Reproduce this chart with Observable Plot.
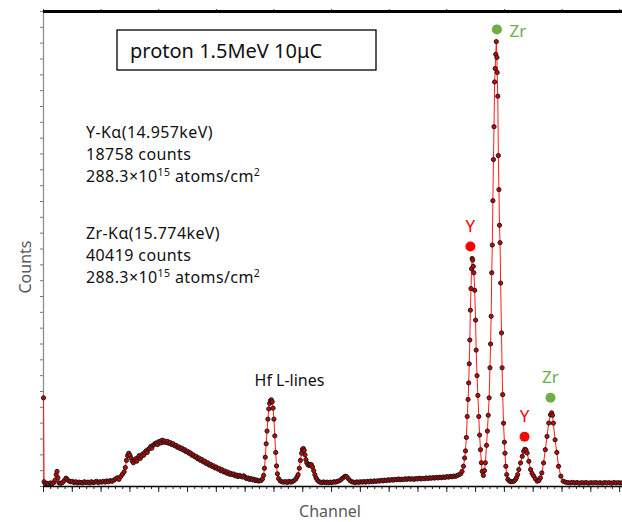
<!DOCTYPE html>
<html><head><meta charset="utf-8">
<script src="https://cdn.jsdelivr.net/npm/d3@7"></script>
<script src="https://cdn.jsdelivr.net/npm/@observablehq/plot@0.6"></script>
<style>body{margin:0;background:#fff}</style>
</head><body><div id="chart"></div>
<script>
// Spectrum: channel numbers and counts
const channel = [0,2,6,12,18,24,30,36,40,44,47,50,54,60,66,72,78,82,88,94,100,106,112,118,124,130,136,142,148,154,160,166,172,178,184,190,196,202,208,214,220,226,232,238,244,250,256,262,268,274,280,284,288,292,296,300,304,308,312,316,320,324,328,332,336,340,344,348,352,356,360,364,368,372,376,380,384,388,392,396,400,404,408,412,416,420,425,430,435,440,445,450,455,460,465,470,475,480,485,490,495,500,505,510,515,520,525,530,535,540,545,550,555,560,565,570,575,580,585,590,595,600,605,610,615,620,625,630,635,640,645,650,655,660,665,670,675,680,685,690,695,700,705,710,715,720,725,730,735,740,745,750,755,760,764,767,770,773,776,779,782,785,788,791,794,797,800,803,806,809,812,816,822,828,834,840,846,852,858,864,870,876,880,884,888,892,896,899,902,905,908,911,914,918,922,926,930,934,938,942,946,950,955,960,966,972,978,984,990,996,1002,1008,1014,1020,1026,1032,1038,1044,1048,1052,1058,1064,1070,1076,1082,1088,1094,1100,1106,1112,1118,1124,1130,1136,1142,1148,1154,1160,1166,1172,1178,1184,1190,1196,1202,1208,1214,1220,1226,1232,1238,1244,1250,1256,1262,1268,1274,1280,1286,1292,1298,1304,1310,1316,1322,1328,1334,1340,1346,1352,1358,1364,1370,1376,1382,1388,1394,1400,1406,1412,1418,1424,1430,1436,1442,1448,1453,1458,1462,1465,1468,1471,1474,1476,1478,1480,1482,1484,1486,1488,1490,1492,1494,1497,1500,1502,1505,1508,1511,1514,1517,1520,1523,1527,1531,1534,1538,1541,1544,1547,1550,1552,1554,1556,1558,1560,1562,1564,1566,1568,1570,1572,1574,1575,1577,1579,1581,1583,1585,1587,1590,1592,1594,1597,1600,1602,1605,1608,1612,1617,1622,1627,1633,1638,1642,1646,1650,1656,1662,1667,1671,1675,1679,1685,1691,1696,1702,1708,1714,1720,1725,1730,1736,1742,1748,1754,1760,1764,1767,1770,1776,1782,1788,1796,1804,1812,1820,1828,1836,1844,1852,1860,1868,1876,1884,1892,1900,1908,1916,1924,1932,1940,1948,1956,1964,1972,1980,1988,1996,2004,2010];
const counts = [1120,60,35,40,30,45,35,50,80,150,190,110,45,40,50,75,105,90,70,60,65,50,60,45,55,50,45,60,50,55,45,60,50,55,65,50,60,55,65,55,70,60,75,65,80,95,110,90,125,155,185,240,330,390,420,395,360,320,300,330,350,320,365,390,355,380,410,395,430,450,430,470,480,505,485,520,530,545,550,530,565,570,550,585,560,575,555,570,545,555,530,540,515,520,495,500,478,485,460,465,440,445,420,425,395,400,375,380,350,360,330,340,310,320,290,300,270,280,255,262,235,245,220,228,200,212,185,195,170,182,155,165,150,158,135,145,125,140,130,120,135,115,100,108,90,100,85,92,75,82,70,72,75,95,140,230,370,540,700,850,980,1050,1085,1095,1070,990,850,640,430,260,160,100,70,60,55,62,50,65,55,62,75,95,120,150,230,330,420,470,480,455,400,340,300,275,265,280,275,245,200,150,110,85,65,55,50,58,50,55,48,55,50,60,55,65,70,85,105,120,130,125,100,75,60,55,50,58,52,60,55,62,55,65,58,68,60,70,65,72,68,78,70,80,75,85,78,88,80,90,85,95,85,92,88,98,90,100,92,98,90,100,95,105,95,102,98,108,100,110,104,112,106,115,108,118,112,120,115,125,118,128,122,132,128,138,148,160,190,255,360,450,620,884,1100,1308,1550,1850,2227,2500,2750,2880,2860,2780,2700,2478,2101,1723,1400,1150,884,650,465,300,190,140,200,300,520,700,900,1120,1500,1800,2150,2700,3050,3610,4130,4545,5110,5280,5460,5620,5420,5230,4930,4180,3750,3300,3080,2570,1940,1500,1160,800,560,420,255,150,90,70,60,62,67,85,110,150,214,298,381,444,470,462,423,318,214,165,130,95,67,75,110,172,298,465,633,801,906,930,900,800,590,430,255,130,67,55,50,45,52,45,50,42,48,45,50,42,48,45,50,44,48,42,50,45,48,42,50,45,48,44,46];

// Peak annotations
const peakNames = ["Zr", "Y", "Y", "Zr"];
const peakChannel = [1574, 1482, 1670, 1760];
const peakMarkCounts = [5774, 3032, 629, 1120];
const peakColor = ["#70AD47", "#FF0000", "#FF0000", "#70AD47"];

// Text
const boxTitle = "proton 1.5MeV 10μC";
const infoY = ["Y-Kα(14.957keV)", "18758 counts"];
const infoZr = ["Zr-Kα(15.774keV)", "40419 counts"];
const densityText = ["288.3×10", "15", " atoms/cm", "2"];
const hfLabel = "Hf L-lines";
const xLabel = "Channel";
const yLabel = "Counts";

const data = channel.map((c, i) => ({channel: c, counts: counts[i]}));
const peaks = peakNames.map((n, i) => ({name: n, channel: peakChannel[i], counts: peakMarkCounts[i], color: peakColor[i], top: i === 0}));

const noText = () => "";
const plot = Plot.plot({
  width: 622, height: 522,
  marginLeft: 43, marginRight: 0, marginTop: 11, marginBottom: 36,
  style: {fontFamily: "Noto Sans", background: "#fff", overflow: "visible"},
  x: {domain: [0, 2010], axis: null},
  y: {domain: [0, 6000], axis: null},
  color: {type: "identity"},
  marks: [
    Plot.axisX(d3.range(0, 2011, 25), {anchor: "bottom", tickSize: 3, tickFormat: noText, label: null, stroke: "#222"}),
    Plot.axisX(d3.range(0, 2011, 100), {anchor: "bottom", tickSize: 6, tickFormat: noText, label: null, stroke: "#222"}),
    Plot.axisX(d3.range(0, 2011, 200), {anchor: "top", tickSize: 3, tickFormat: noText, label: null, stroke: "#444"}),
    Plot.axisY(d3.range(0, 6001, 200), {anchor: "left", tickSize: 3, tickFormat: noText, label: null, stroke: "#777"}),
    Plot.ruleX([0], {stroke: "#888", strokeWidth: 1.2}),
    Plot.ruleY([6000], {stroke: "#000", strokeWidth: 3}),
    Plot.line(data, {x: "channel", y: "counts", stroke: "#ff1a1a", strokeWidth: 1}),
    Plot.dot(data, {x: "channel", y: "counts", r: 2.1, fill: "#d40000", stroke: "#1a1a1a", strokeWidth: 1}),
    Plot.ruleY([0], {stroke: "#000", strokeWidth: 1.6}),
    Plot.dot(peaks, {x: "channel", y: "counts", r: 5, fill: "color"}),
    Plot.text(peaks.filter(d => d.top), {x: "channel", y: "counts", text: "name", fill: "color", dx: 21, dy: 2, fontSize: 17}),
    Plot.text(peaks.filter(d => !d.top), {x: "channel", y: "counts", text: "name", fill: "color", dy: -20, fontSize: 17})
  ]
});

const svg = d3.select(plot);
const ff = "Noto Sans";
svg.append("rect").attr("x", 117).attr("y", 30).attr("width", 259).attr("height", 40)
  .attr("fill", "#fff").attr("stroke", "#000").attr("stroke-width", 1.3);
svg.append("text").attr("x", 130).attr("y", 58).attr("text-anchor", "start").attr("font-family", ff).attr("font-size", 20)
  .attr("fill", "#111").text(boxTitle);

function infoBlock(lines, y0) {
  const g = svg.append("g").attr("font-family", ff).attr("font-size", 16).attr("letter-spacing", 0.4)
    .attr("fill", "#111").attr("text-anchor", "start");
  lines.forEach((t, i) => g.append("text").attr("x", 86).attr("y", y0 + i * 21.8).text(t));
  const t = g.append("text").attr("x", 86).attr("y", y0 + 2 * 21.8);
  t.append("tspan").text(densityText[0]);
  t.append("tspan").attr("font-size", 10.5).attr("dy", -6).text(densityText[1]);
  t.append("tspan").attr("dy", 6).text(densityText[2]);
  t.append("tspan").attr("font-size", 10.5).attr("dy", -6).text(densityText[3]);
}
infoBlock(infoY, 138);
infoBlock(infoZr, 239);

svg.append("text").attr("x", 289.5).attr("y", 386).attr("text-anchor", "middle")
  .attr("font-family", ff).attr("font-size", 16).attr("fill", "#111").text(hfLabel);
svg.append("text").attr("x", 330).attr("y", 517).attr("text-anchor", "middle")
  .attr("font-family", ff).attr("font-size", 16).attr("fill", "#595959").text(xLabel);
svg.append("text").attr("transform", "translate(31,267) rotate(-90)").attr("text-anchor", "middle")
  .attr("font-family", ff).attr("font-size", 16).attr("fill", "#595959").text(yLabel);

document.getElementById("chart").appendChild(plot);
</script>
</body></html>
